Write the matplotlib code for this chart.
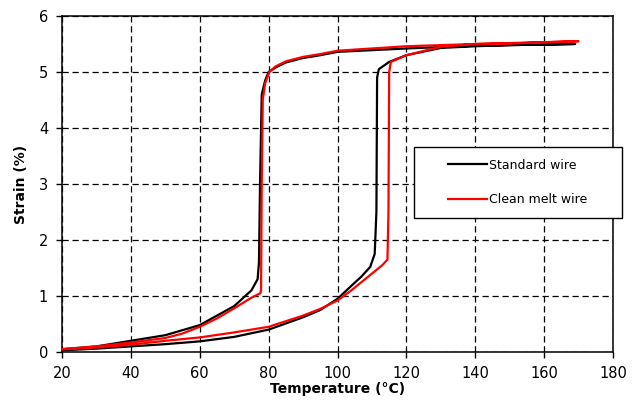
import matplotlib
matplotlib.use("Agg")
import matplotlib.pyplot as plt
from matplotlib.patches import Rectangle

# Standard wire: heating branch (low strain -> transformation -> high strain)
std_heat_T = [20, 30, 40, 50, 60, 70, 80, 90, 95, 100, 104, 107, 109.5, 110.8, 111.3, 111.5, 112, 115, 120, 130, 140, 150, 160, 169]
std_heat_S = [0.03, 0.06, 0.1, 0.14, 0.19, 0.27, 0.4, 0.62, 0.75, 0.95, 1.18, 1.35, 1.52, 1.75, 2.5, 4.9, 5.05, 5.18, 5.3, 5.43, 5.46, 5.48, 5.49, 5.5]
# Standard wire: cooling branch
std_cool_T = [169, 140, 120, 100, 95, 90, 85, 82, 80, 79, 78, 77.5, 77.2, 76.8, 75, 70, 60, 50, 40, 30, 20]
std_cool_S = [5.5, 5.47, 5.42, 5.36, 5.3, 5.25, 5.17, 5.08, 5.0, 4.85, 4.6, 3.0, 1.6, 1.3, 1.1, 0.82, 0.48, 0.3, 0.2, 0.1, 0.05]

# Clean melt wire: heating branch
cm_heat_T = [20, 30, 40, 50, 60, 70, 80, 90, 95, 100, 104, 108, 111, 113, 114.5, 114.8, 115, 115.5, 117, 120, 130, 140, 150, 160, 170]
cm_heat_S = [0.05, 0.08, 0.13, 0.2, 0.26, 0.35, 0.45, 0.65, 0.77, 0.92, 1.1, 1.3, 1.45, 1.55, 1.65, 2.5, 5.0, 5.18, 5.22, 5.3, 5.45, 5.5, 5.51, 5.53, 5.55]
# Clean melt wire: cooling branch
cm_cool_T = [170, 140, 120, 100, 95, 90, 85, 82, 80.2, 79, 78.3, 78, 77.8, 77.6, 75, 70, 65, 60, 55, 50, 40, 30, 20]
cm_cool_S = [5.55, 5.5, 5.46, 5.38, 5.32, 5.27, 5.19, 5.1, 5.0, 4.8, 4.5, 3.0, 1.1, 1.05, 0.97, 0.78, 0.6, 0.45, 0.33, 0.25, 0.17, 0.1, 0.05]

x_ticks = [20, 40, 60, 80, 100, 120, 140, 160, 180]
y_ticks = [0, 1, 2, 3, 4, 5, 6]
series_names = ["Standard wire", "Clean melt wire"]

W, H = 633, 403
fig = plt.figure(figsize=(6.33, 4.03), dpi=100)
ax = fig.add_axes([62/W, 1 - 352/H, (613-62)/W, (352-16)/H])

ax.plot(std_heat_T + std_cool_T, std_heat_S + std_cool_S, color="black", lw=1.6, label=series_names[0], zorder=3)
ax.plot(cm_heat_T + cm_cool_T, cm_heat_S + cm_cool_S, color="#ff0000", lw=1.6, label=series_names[1], zorder=4)

ax.set_xlim(20, 180)
ax.set_ylim(0, 6)
ax.set_xticks(x_ticks)
ax.set_yticks(y_ticks)
ax.grid(True, color="black", linestyle=(0, (5, 3)), linewidth=0.9)
ax.set_axisbelow(True)
for s in ax.spines.values():
    s.set_color("black")
    s.set_linewidth(1.1)
ax.tick_params(direction="out", length=4, width=1, labelsize=10.5, colors="black", pad=6)

ax.set_xlabel("Temperature (°C)", fontsize=10, fontweight="bold", labelpad=1)
ax.set_ylabel("Strain (%)", fontsize=10, fontweight="bold", labelpad=8)

# legend frame (extends past the right spine as in the reference)
fx0, fx1, fy0, fy1 = 414, 622, 147, 218
frame = Rectangle((fx0/W, 1 - fy1/H), (fx1-fx0)/W, (fy1-fy0)/H, transform=fig.transFigure,
                  facecolor="white", edgecolor="black", lw=1.0, zorder=9, clip_on=False)
fig.patches.append(frame)

leg = fig.legend(loc="center left", bbox_to_anchor=(448/W, 1 - 182.5/H),
                 fontsize=9, frameon=False, labelspacing=1.75, handlelength=3.1,
                 handletextpad=0.15, borderpad=0, borderaxespad=0)
leg.set_zorder(10)

fig.savefig("out.png", dpi=100)
